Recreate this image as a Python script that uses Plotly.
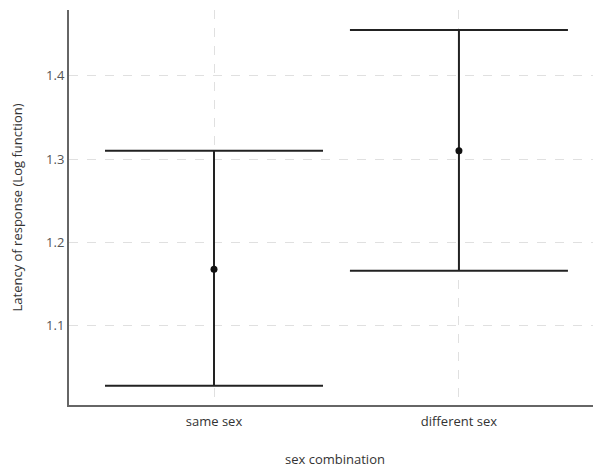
import plotly.graph_objects as go

categories = ["same sex", "different sex"]
means = [1.168, 1.310]
upper = [1.310, 1.455]
lower = [1.028, 1.166]
y_ticks = [1.1, 1.2, 1.3, 1.4]

err_plus = [u - m for u, m in zip(upper, means)]
err_minus = [m - l for m, l in zip(means, lower)]

fig = go.Figure()
fig.add_trace(go.Scatter(
    x=categories, y=means, mode="markers",
    marker=dict(color="#111111", size=7),
    error_y=dict(type="data", symmetric=False, array=err_plus, arrayminus=err_minus,
                 color="#222222", thickness=2, width=109),
    showlegend=False,
))

font_family = "Open Sans, Liberation Sans, sans-serif"
fig.update_layout(
    width=593, height=461,
    margin=dict(l=61, r=0, t=2, b=64),
    paper_bgcolor="white", plot_bgcolor="white",
    font=dict(family=font_family, color="#333333", size=13),
    xaxis=dict(
        range=[-0.592, 1.58],
        showline=True, linecolor="#666666", linewidth=2,
        showgrid=True, gridcolor="#e0e0e0", griddash="dash", gridwidth=1,
        ticks="", zeroline=False, ticklabelstandoff=3,
        title=dict(text="sex combination", standoff=26, font=dict(size=13, color="#333333")),
        tickfont=dict(size=13, color="#333333"),
    ),
    yaxis=dict(
        range=[1.005, 1.479],
        tickvals=y_ticks, ticktext=[f"{v:.1f}" for v in y_ticks],
        showline=True, linecolor="#666666", linewidth=2,
        showgrid=True, gridcolor="#e0e0e0", griddash="dash", gridwidth=1,
        ticks="", zeroline=False,
        title=dict(text="Latency of response (Log function)", standoff=22, font=dict(size=13, color="#333333")),
        tickfont=dict(size=13, color="#555555"),
    ),
)

fig.write_html("out.html")
